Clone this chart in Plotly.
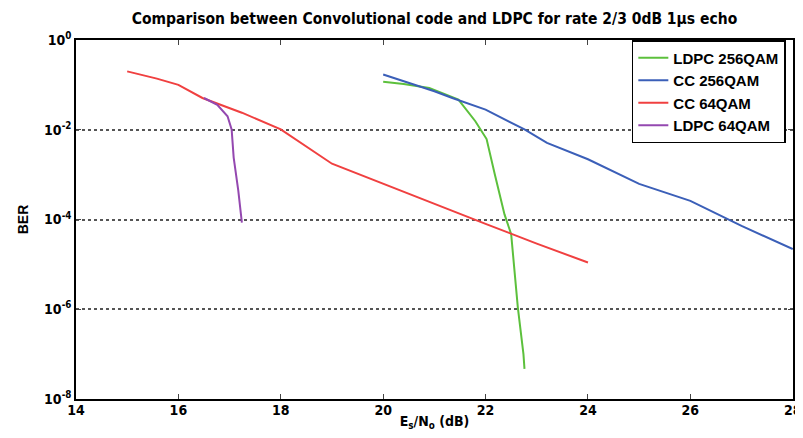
import plotly.graph_objects as go

# LDPC 256QAM
ldpc256_x = [20.0, 20.4, 20.9, 21.47, 21.8, 22.02, 22.18, 22.37, 22.5, 22.63, 22.74, 22.76]
ldpc256_y = [0.117, 0.105, 0.085, 0.047, 0.0155, 0.0062, 0.00102, 1.3e-4, 4.7e-5, 1.1e-6, 1.0e-7, 4.7e-8]
# CC 256QAM
cc256_x = [20.0, 21.0, 21.35, 22.0, 22.76, 23.2, 24.0, 25.0, 26.0, 26.73, 27.0, 28.0]
cc256_y = [0.17, 0.072, 0.051, 0.028, 0.0102, 0.0051, 0.0022, 6.2e-4, 2.6e-4, 1.02e-4, 7.2e-5, 2.2e-5]
# CC 64QAM
cc64_x = [15.0, 15.58, 16.0, 16.47, 17.24, 18.0, 19.0, 20.0, 21.0, 22.0, 23.0, 24.0]
cc64_y = [0.2, 0.138, 0.1, 0.051, 0.024, 0.0102, 0.00175, 6.2e-4, 2.2e-4, 8.0e-5, 2.9e-5, 1.1e-5]
# LDPC 64QAM
ldpc64_x = [16.5, 16.76, 16.96, 17.04, 17.08, 17.17, 17.24]
ldpc64_y = [0.051, 0.036, 0.02, 0.0102, 0.0024, 4.4e-4, 8.5e-5]

series = [
    ("LDPC 256QAM", ldpc256_x, ldpc256_y, "#5cc03c"),
    ("CC 256QAM", cc256_x, cc256_y, "#3b5fb8"),
    ("CC 64QAM", cc64_x, cc64_y, "#f04040"),
    ("LDPC 64QAM", ldpc64_x, ldpc64_y, "#9448b0"),
]

y_tickvals = [1, 1e-2, 1e-4, 1e-6, 1e-8]
y_ticktext = ["10<sup>0</sup>", "10<sup>-2</sup>", "10<sup>-4</sup>", "10<sup>-6</sup>", "10<sup>-8</sup>"]
x_tickvals = [14, 16, 18, 20, 22, 24, 26, 28]

narrow = "DejaVu Sans Condensed, Liberation Sans Narrow, Arial Narrow, Liberation Sans"

fig = go.Figure()
for name, xs, ys, col in series:
    fig.add_trace(go.Scatter(x=xs, y=ys, mode="lines", name=name,
                             line=dict(color=col, width=2)))

fig.update_layout(
    width=803, height=438,
    margin=dict(l=68, r=9, t=32, b=47),
    paper_bgcolor="white", plot_bgcolor="white",
    title=dict(text="Comparison between Convolutional code and LDPC for rate 2/3 0dB 1\u03bcs echo",
               x=0.5, xref="paper", xanchor="center", y=0.988, yanchor="top",
               font=dict(family=narrow, size=15.5, color="black", weight="bold")),
    font=dict(family=narrow, size=13, color="black"),
    showlegend=True,
    legend=dict(x=0.99, xanchor="right", y=1.0, yanchor="top",
                bgcolor="white", bordercolor="black", borderwidth=1.5,
                font=dict(family="Liberation Sans, Arial", size=15, color="black", weight="bold"),
                tracegroupgap=0),
)

fig.update_xaxes(range=[14, 28.005], tickvals=x_tickvals, ticks="inside", ticklen=5,
                 showline=True, linecolor="black", linewidth=1.5, mirror="ticks",
                 showgrid=False, zeroline=False, ticklabeloverflow="allow",
                 ticklabelstandoff=-3,
                 tickfont=dict(family=narrow, size=14, weight="bold"),
                 title=dict(text="E<sub>s</sub>/N<sub>o</sub> (dB)", standoff=0,
                            font=dict(family=narrow, size=14, weight="bold")))
fig.update_yaxes(type="log", range=[-8, 0], tickvals=y_tickvals, ticktext=y_ticktext,
                 ticks="inside", ticklen=5,
                 showline=True, linecolor="black", linewidth=1.5, mirror="ticks",
                 showgrid=True, gridcolor="#555555", griddash="3px,3px", gridwidth=1.5,
                 zeroline=False,
                 tickfont=dict(family=narrow, size=14, weight="bold"),
                 title=dict(text="BER", standoff=12,
                            font=dict(family="Liberation Sans, Arial", size=14, weight="bold")))

fig.write_html("out.html")
